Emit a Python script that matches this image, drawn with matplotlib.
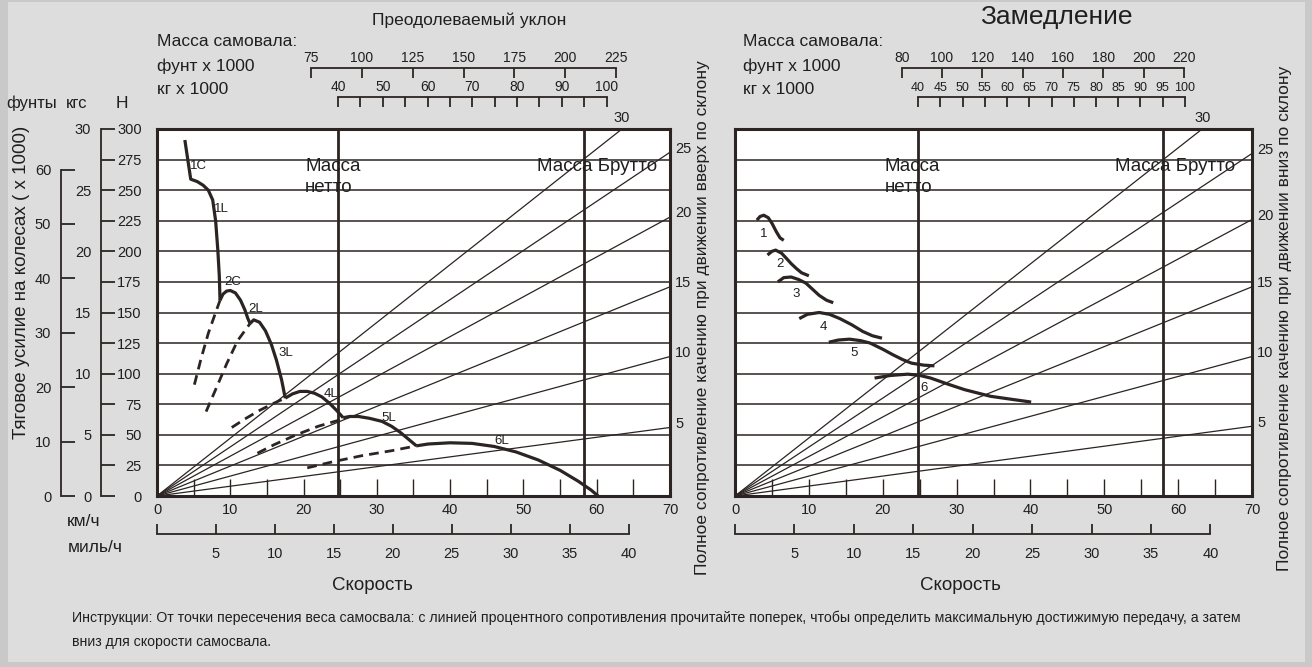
import numpy as np
import matplotlib.pyplot as plt
from matplotlib.patches import Rectangle

plt.rcParams['font.family'] = ['Liberation Sans', 'DejaVu Sans']

INK = '#2b2422'
TXT = '#1f1f1f'
W, H = 1312, 667

# ---- shared scales ----
speed_kmh_ticks = [0, 10, 20, 30, 40, 50, 60, 70]
speed_minor_ticks = [5, 15, 25, 35, 45, 55, 65]
speed_mph_ticks = [0, 5, 10, 15, 20, 25, 30, 35, 40]
force_kn_ticks = [0, 25, 50, 75, 100, 125, 150, 175, 200, 225, 250, 275, 300]
force_lb_ticks = [0, 10, 20, 30, 40, 50, 60]
force_kgf_ticks = [0, 5, 10, 15, 20, 25, 30]
force_kgf_minor = [2.5, 7.5, 12.5, 17.5, 22.5, 27.5]
grid_levels = [25, 50, 75, 100, 125, 150, 175, 200, 225, 250, 275]
grades = [5, 10, 15, 20, 25, 30]
net_kg, gross_kg = 40, 95

# ---- left: rimpull ----
rim_grade_end = [56, 114, 171, 228, 281, 331]   # kN at 70 km/h
rim_net_kmh, rim_gross_kmh = 24.7, 58.3
rim_lb_ticks = [75, 100, 125, 150, 175, 200, 225]
rim_kg_ticks = [40, 45, 50, 55, 60, 65, 70, 75, 80, 85, 90, 95, 100]
rim_kg_labels = [40, 50, 60, 70, 80, 90, 100]

g1_kmh = [3.8, 4.6, 5.5, 6.3, 7.0, 7.6, 8.0, 8.3, 8.5, 8.6]
g1_kn = [291, 259, 257, 254, 250, 242, 225, 201, 180, 160]
g2_kmh = [8.6, 9.0, 9.5, 10.0, 10.7, 11.4, 12.0, 12.4, 12.7]
g2_kn = [160, 165, 167.5, 168, 166, 160, 152, 145, 141]
g3_kmh = [12.7, 13.2, 14.0, 14.8, 15.6, 16.3, 17.0, 17.5]
g3_kn = [141, 144, 142, 135, 124, 111, 95, 80]
g4_kmh = [17.5, 18.5, 19.5, 20.5, 21.5, 22.5, 23.5, 24.5, 25.4]
g4_kn = [80, 83.5, 85.5, 85.5, 84, 81, 76, 70, 64]
g5_kmh = [25.4, 26.3, 27.5, 29.0, 30.7, 32.0, 33.2, 34.3, 35.4]
g5_kn = [64, 65, 65, 63.5, 61, 57, 52, 46.5, 41]
g6_kmh = [35.4, 37, 40, 43, 46, 49, 52, 55, 57.5, 59.2, 60.2]
g6_kn = [41, 42.5, 43.5, 43, 40.5, 36, 29.5, 21, 12, 5, 0]

d2_kmh = [5.1, 6.0, 7.0, 8.0, 8.6]
d2_kn = [91, 112, 133, 150, 160]
d3_kmh = [6.7, 8.0, 9.5, 11.0, 12.7]
d3_kn = [69, 87, 108, 127, 141]
d4_kmh = [10.2, 12.0, 14.0, 16.0, 17.5]
d4_kn = [56, 63, 70, 76, 80]
d5_kmh = [13.7, 16.0, 19.0, 22.0, 25.4]
d5_kn = [35, 42, 50, 57, 63]
d6_kmh = [20.5, 24.0, 28.0, 32.0, 35.4]
d6_kn = [23, 28, 33, 37, 41]

rim_labels = ['1C', '1L', '2C', '2L', '3L', '4L', '5L', '6L']
rim_label_kmh = [5.6, 8.8, 10.3, 13.5, 17.6, 23.7, 31.6, 47.1]
rim_label_kn = [270, 235, 175, 153, 117, 83, 64, 45]

# ---- right: retarder ----
ret_grade_end = [57, 114, 171, 226, 280, 332]
ret_net_kmh, ret_gross_kmh = 24.8, 57.9
ret_lb_ticks = [80, 100, 120, 140, 160, 180, 200, 220]
ret_kg_ticks = [40, 45, 50, 55, 60, 65, 70, 75, 80, 85, 90, 95, 100]
ret_kg_labels = ret_kg_ticks

r1_kmh = [2.96, 3.4, 3.9, 4.5, 5.0, 5.6, 6.1, 6.6]
r1_kn = [225.5, 228.5, 229.5, 227.5, 223, 216, 211, 209]
r2_kmh = [4.4, 5.0, 5.5, 6.3, 7.0, 7.6, 8.3, 9.0, 10.0]
r2_kn = [197, 200, 201, 198.5, 194, 190, 186, 182.5, 180]
r3_kmh = [5.8, 6.6, 7.6, 8.6, 9.6, 10.5, 11.4, 12.4, 13.3]
r3_kn = [175, 178.5, 179, 177, 174, 169, 164, 160, 158]
r4_kmh = [8.7, 9.8, 11.4, 12.8, 14.2, 15.8, 17.3, 18.6, 19.9]
r4_kn = [145, 148.5, 150, 148.5, 145, 140, 134.5, 131, 129]
r5_kmh = [12.7, 14.0, 15.5, 17.0, 18.3, 20.0, 21.4, 22.7, 23.9, 25.5, 27.0]
r5_kn = [125.7, 127.5, 128.2, 127, 125, 120, 115.4, 111.5, 108.6, 107, 106.4]
r6_kmh = [18.9, 21.0, 23.4, 25.0, 26.5, 28.8, 31.1, 34.6, 37.5, 40.1]
r6_kn = [96.4, 98.5, 99.6, 98.6, 96.4, 91.5, 86.9, 81.5, 79, 76.8]

ret_labels = ['1', '2', '3', '4', '5', '6']
ret_label_kmh = [3.9, 6.1, 8.3, 11.9, 16.1, 25.6]
ret_label_kn = [214, 190, 165, 138, 117, 88]

LB_TO_KN = 4.448
KGF_TO_KN = 10
MPH = 1.609
LB_TO_KG = 0.4536

fig = plt.figure(figsize=(W / 100, H / 100), dpi=100)
fig.patch.set_facecolor('#c9c9c9')
fig.add_artist(Rectangle((8 / W, 1 - 662 / H), 1297 / W, 660 / H, transform=fig.transFigure,
                         facecolor='#dddddd', edgecolor='none', zorder=-10))


def add_ax(x0, y0, x1, y1):
    return fig.add_axes([x0 / W, 1 - y1 / H, (x1 - x0) / W, (y1 - y0) / H])


def ftext(px, py, s, **kw):
    kw.setdefault('color', TXT)
    fig.text(px / W, 1 - py / H, s, **kw)


def bare(a):
    a.patch.set_visible(False)
    for s in a.spines.values():
        s.set_visible(False)
        s.set_color(INK)
        s.set_linewidth(1.3)


def draw_panel(x0, x1, grade_end, net_kmh, gross_kmh, lb_ticks, kg_ticks, kg_labels,
               y_labels, kg_size):
    ax = add_ax(x0, 129, x1, 496)
    ax.set_xlim(0, 70)
    ax.set_ylim(0, 300)
    ax.set_facecolor('white')
    for s in ax.spines.values():
        s.set_color(INK)
        s.set_linewidth(2.2)
    ax.hlines(grid_levels, 0, 70, color=INK, lw=1.1, zorder=1)
    for g, r in zip(grades, grade_end):
        ax.plot([0, 70], [0, r], color=INK, lw=0.9, zorder=1)
        if r <= 300:
            ax.text(70.7, r + 3, str(g), ha='left', va='center', fontsize=10.5, color=TXT)
        else:
            ax.text(70 * 300 / r, 303, str(g), ha='center', va='bottom', fontsize=10.5, color=TXT)
    ax.axvline(net_kmh, color=INK, lw=2, zorder=2)
    ax.axvline(gross_kmh, color=INK, lw=2, zorder=2)
    ax.text(net_kmh - 4.5, 276, 'Масса\nнетто', ha='left', va='top', fontsize=13.5,
            color=TXT, linespacing=1.3)
    ax.text(gross_kmh - 6.5, 276, 'Масса Брутто', ha='left', va='top', fontsize=13.5, color=TXT)

    ax.set_xticks(speed_kmh_ticks)
    ax.set_xticks(speed_minor_ticks, minor=True)
    ax.tick_params(axis='x', which='both', direction='in', length=12, width=1,
                   color=INK, pad=5, labelsize=10.5, labelcolor=TXT)
    if y_labels:
        ax.set_yticks(force_kn_ticks)
        ax.tick_params(axis='y', length=0, pad=11, labelsize=10.5, labelcolor=TXT)
    else:
        ax.set_yticks([])

    # weight scales on top
    def kg_x(kg):
        return net_kmh + (kg - net_kg) * (gross_kmh - net_kmh) / (gross_kg - net_kg)

    for ybase, pos, ticks, labels, size in [
        (68, [kg_x(v * LB_TO_KG) for v in lb_ticks], lb_ticks, lb_ticks, 10),
        (97, [kg_x(v) for v in kg_ticks], kg_ticks, kg_labels, kg_size),
    ]:
        a = add_ax(x0, ybase, x1, ybase + 12)
        bare(a)
        a.set_xlim(0, 70)
        a.set_ylim(0, 1)
        a.spines['top'].set_visible(True)
        a.spines['top'].set_bounds(pos[0], pos[-1])
        a.xaxis.tick_top()
        a.set_yticks([])
        a.set_xticks(pos)
        a.set_xticklabels([str(t) if t in labels else '' for t in ticks])
        a.tick_params(axis='x', direction='in', length=7, width=1.3, color=INK,
                      pad=2, labelsize=size, labelcolor=TXT)

    # mph scale below
    a = add_ax(x0, 520, x1, 534)
    bare(a)
    a.set_xlim(0, 70)
    a.spines['bottom'].set_visible(True)
    a.spines['bottom'].set_bounds(0, speed_mph_ticks[-1] * MPH)
    a.set_yticks([])
    a.set_xticks([m * MPH for m in speed_mph_ticks])
    a.set_xticklabels(['' if m == 0 else str(m) for m in speed_mph_ticks])
    a.tick_params(axis='x', direction='in', length=7, width=1.3, color=INK,
                  pad=9, labelsize=10.5, labelcolor=TXT)
    return ax


def curve(ax, xs, ys, dashed=False):
    ax.plot(xs, ys, color=INK, lw=2.0 if dashed else 2.3, zorder=4,
            linestyle=(0, (3.5, 2.2)) if dashed else '-', solid_capstyle='butt')


# ---- left panel ----
axL = draw_panel(157, 670, rim_grade_end, rim_net_kmh, rim_gross_kmh,
                 rim_lb_ticks, rim_kg_ticks, rim_kg_labels, True, 10)
for xs, ys in [(g1_kmh, g1_kn), (g2_kmh, g2_kn), (g3_kmh, g3_kn), (g4_kmh, g4_kn),
               (g5_kmh, g5_kn), (g6_kmh, g6_kn)]:
    curve(axL, xs, ys)
for xs, ys in [(d2_kmh, d2_kn), (d3_kmh, d3_kn), (d4_kmh, d4_kn), (d5_kmh, d5_kn),
               (d6_kmh, d6_kn)]:
    curve(axL, xs, ys, dashed=True)
for lab, x, y in zip(rim_labels, rim_label_kmh, rim_label_kn):
    axL.text(x, y, lab, ha='center', va='center', fontsize=9.5, color=TXT, zorder=5)

# ---- right panel ----
axR = draw_panel(735, 1252, ret_grade_end, ret_net_kmh, ret_gross_kmh,
                 ret_lb_ticks, ret_kg_ticks, ret_kg_labels, False, 9)
for xs, ys in [(r1_kmh, r1_kn), (r2_kmh, r2_kn), (r3_kmh, r3_kn), (r4_kmh, r4_kn),
               (r5_kmh, r5_kn), (r6_kmh, r6_kn)]:
    curve(axR, xs, ys)
for lab, x, y in zip(ret_labels, ret_label_kmh, ret_label_kn):
    axR.text(x, y, lab, ha='center', va='center', fontsize=9.5, color=TXT, zorder=5)

# ---- force scales on the far left ----
a = add_ax(61, 129, 76, 496)
bare(a)
a.set_ylim(0, 300)
a.set_xticks([])
a.spines['left'].set_visible(True)
a.spines['left'].set_bounds(0, force_lb_ticks[-1] * LB_TO_KN)
a.set_yticks([v * LB_TO_KN for v in force_lb_ticks])
a.set_yticklabels([str(v) for v in force_lb_ticks])
a.tick_params(axis='y', direction='in', length=10, width=1.3, color=INK, pad=7,
              labelsize=10.5, labelcolor=TXT)

a = add_ax(101, 129, 116, 496)
bare(a)
a.set_ylim(0, 300)
a.set_xticks([])
a.spines['left'].set_visible(True)
a.spines['left'].set_bounds(0, force_kgf_ticks[-1] * KGF_TO_KN)
a.set_yticks([v * KGF_TO_KN for v in force_kgf_ticks])
a.set_yticklabels([str(v) for v in force_kgf_ticks])
a.set_yticks([v * KGF_TO_KN for v in force_kgf_minor], minor=True)
a.tick_params(axis='y', which='both', direction='in', length=10, width=1.3, color=INK,
              pad=7, labelsize=10.5, labelcolor=TXT)

# ---- texts ----
ftext(32, 103, 'фунты', ha='center', va='center', fontsize=12)
ftext(77, 103, 'кгс', ha='center', va='center', fontsize=12)
ftext(122, 103, 'Н', ha='center', va='center', fontsize=12.5)
ftext(22, 282, 'Тяговое усилие на колесах ( x 1000)', rotation=90, ha='center', va='center',
      fontsize=13.5)
ftext(84, 521, 'км/ч', ha='center', va='center', fontsize=12.5)
ftext(68, 547, 'миль/ч', ha='left', va='center', fontsize=12.5)

ftext(469, 20, 'Преодолеваемый уклон', ha='center', va='center', fontsize=12.5)
ftext(1056, 17, 'Замедление', ha='center', va='center', fontsize=19)
for x in (157, 743):
    ftext(x, 42, 'Масса самовала:', ha='left', va='center', fontsize=12.5)
    ftext(x, 66, 'фунт x 1000', ha='left', va='center', fontsize=12.5)
    ftext(x, 90, 'кг x 1000', ha='left', va='center', fontsize=12.5)

ftext(703, 318, 'Полное сопротивление качению при движении вверх по склону', rotation=90,
      ha='center', va='center', fontsize=12.5)
ftext(1284, 318, 'Полное сопротивление качению при движении вниз по склону', rotation=90,
      ha='center', va='center', fontsize=12.5)

ftext(372, 585, 'Скорость', ha='center', va='center', fontsize=13.5)
ftext(960, 585, 'Скорость', ha='center', va='center', fontsize=13.5)

ftext(72, 618, 'Инструкции: От точки пересечения веса самосвала: с линией процентного '
      'сопротивления прочитайте поперек, чтобы определить максимальную достижимую передачу, '
      'а затем', ha='left', va='center', fontsize=10.2)
ftext(72, 642, 'вниз для скорости самосвала.', ha='left', va='center', fontsize=10.2)

fig.savefig('out.png', dpi=100, facecolor=fig.get_facecolor())
